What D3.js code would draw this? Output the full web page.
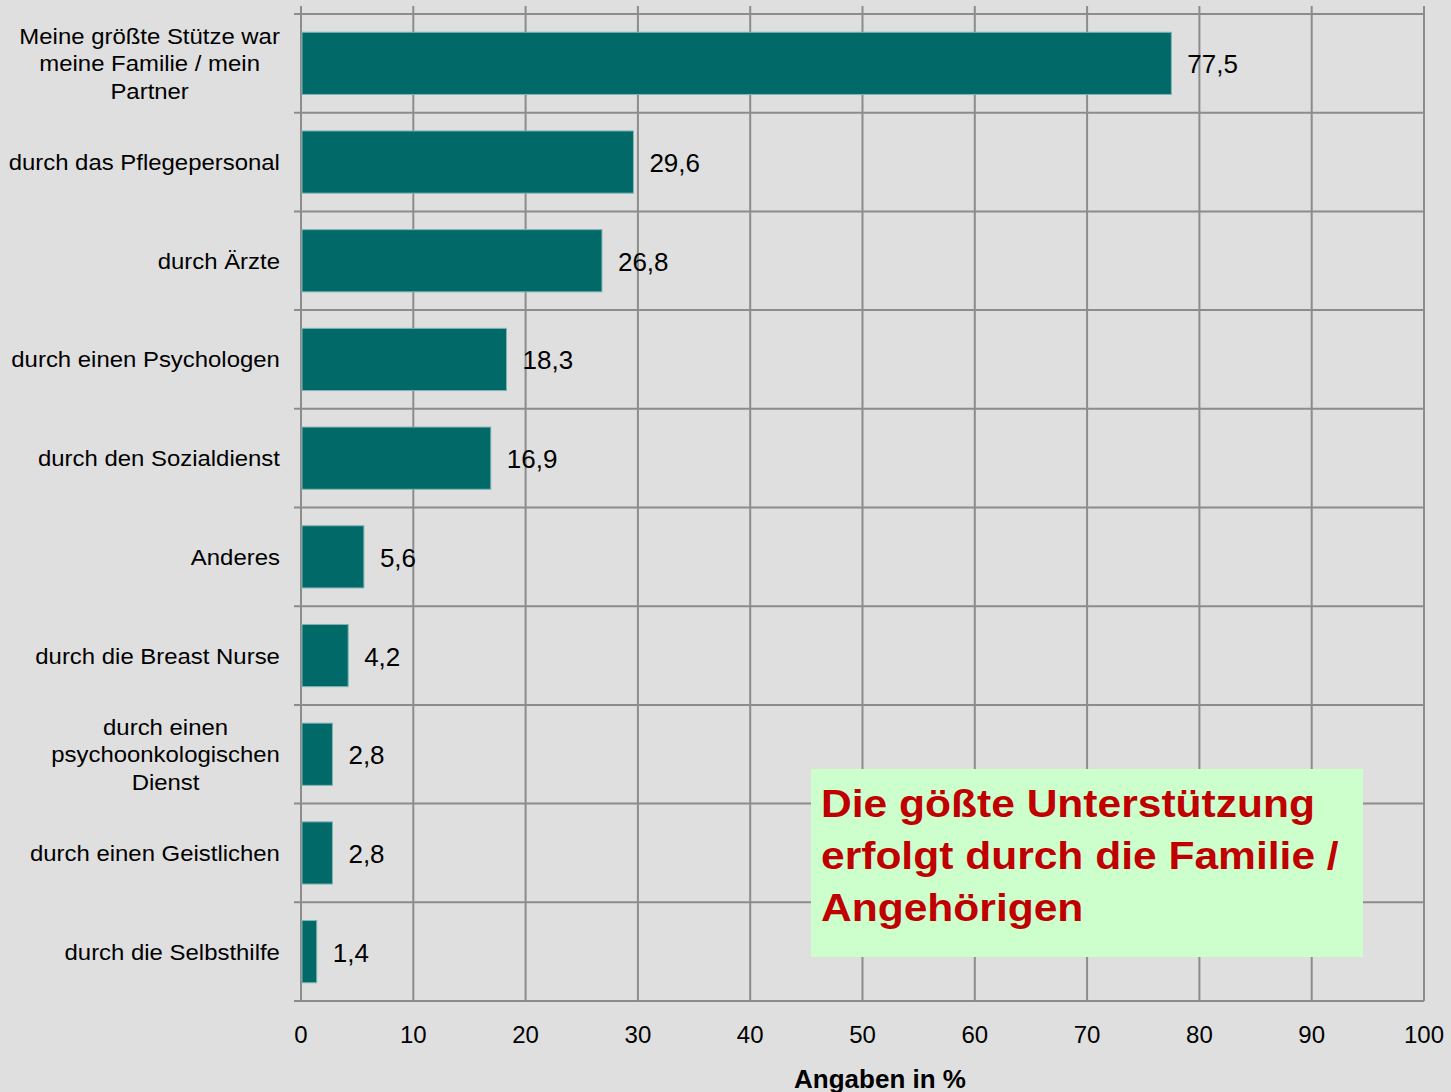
<!DOCTYPE html>
<html>
<head>
  <meta charset="utf-8">
  <title>Unterstützung</title>
  <script src="https://d3js.org/d3.v7.min.js"></script>
  <style>
    body, html {
      margin: 0;
      padding: 0;
      background-color: #dfdfdf;
    }

    body {
      font-family: "Liberation Sans", Arial, Helvetica, sans-serif;
    }

    .grid line {
      stroke: #8c8c8c;
      stroke-width: 2;
    }

    .bar {
      fill: #026969;
      stroke: #7fb3b3;
      stroke-width: 1;
    }

    .label {
      font-size: 22px;
      fill: #000;
    }

    .value {
      font-size: 26px;
      fill: #000;
    }

    .tick-label {
      font-size: 24px;
      fill: #000;
    }

    .note {
      font-size: 38px;
      font-weight: bold;
      fill: #c00000;
    }
  </style>
</head>
<body>
  <div id="chart"></div>

  <script>
    const categories = [
      ["Meine größte Stütze war", "meine Familie / mein", "Partner"],
      ["durch das Pflegepersonal"],
      ["durch Ärzte"],
      ["durch einen Psychologen"],
      ["durch den Sozialdienst"],
      ["Anderes"],
      ["durch die Breast Nurse"],
      ["durch einen", "psychoonkologischen", "Dienst"],
      ["durch einen Geistlichen"],
      ["durch die Selbsthilfe"]
    ]
    const values = [77.5, 29.6, 26.8, 18.3, 16.9, 5.6, 4.2, 2.8, 2.8, 1.4]
    const xTicks = [0, 10, 20, 30, 40, 50, 60, 70, 80, 90, 100]
    const noteLines = ["Die gößte Unterstützung", "erfolgt durch die Familie /", "Angehörigen"]

    const W = 1451, H = 1092
    const margin = { left: 301, right: 27, top: 14, bottom: 91 }
    const width = W - margin.left - margin.right
    const height = H - margin.top - margin.bottom

    const svg = d3.select('#chart').append('svg')
      .attr('width', W)
      .attr('height', H)

    const chart = svg.append('g')
      .attr('transform', `translate(${margin.left},${margin.top})`)

    const xScale = d3.scaleLinear()
      .domain([0, 100])
      .range([0, width])

    const yScale = d3.scaleBand()
      .domain(d3.range(categories.length))
      .range([0, height])
      .paddingInner(0.37)
      .paddingOuter(0.185)

    // grid
    const grid = chart.append('g').attr('class', 'grid')
    const step = yScale.step()
    const edges = d3.range(categories.length + 1).map((i) => i * step)

    grid.selectAll('.hline')
      .data(edges)
      .enter()
      .append('line')
      .attr('x1', -7)
      .attr('x2', width)
      .attr('y1', (d) => d)
      .attr('y2', (d) => d)

    grid.selectAll('.vline')
      .data(xTicks)
      .enter()
      .append('line')
      .attr('x1', (d) => xScale(d))
      .attr('x2', (d) => xScale(d))
      .attr('y1', -8)
      .attr('y2', height)

    // bars
    chart.selectAll('.bar')
      .data(values)
      .enter()
      .append('rect')
      .attr('class', 'bar')
      .attr('x', xScale(0) + 1)
      .attr('y', (d, i) => yScale(i))
      .attr('width', (d) => xScale(d) - xScale(0) - 1)
      .attr('height', yScale.bandwidth())

    // value labels
    chart.selectAll('.value')
      .data(values)
      .enter()
      .append('text')
      .attr('class', 'value')
      .attr('x', (d) => xScale(d) + 16)
      .attr('y', (d, i) => yScale(i) + yScale.bandwidth() / 2 + 10)
      .text((d) => String(d).replace('.', ','))

    // category labels (centered block, right aligned to axis, a bit stretched)
    const sx = 1.088
    const catG = chart.selectAll('.cat')
      .data(categories)
      .enter()
      .append('text')
      .attr('class', 'label')
      .attr('text-anchor', 'middle')

    catG.each(function(lines, i) {
      const t = d3.select(this)
      const cy = yScale(i) + yScale.bandwidth() / 2
      const lh = 27.5
      const y0 = cy - (lines.length - 1) * lh / 2 + 8
      lines.forEach((l, j) => {
        t.append('tspan').attr('x', 0).attr('y', y0 + j * lh).text(l)
      })
      const wmax = d3.max(t.selectAll('tspan').nodes(), (n) => n.getComputedTextLength())
      t.attr('transform', `translate(${-21 - wmax * sx / 2},0) scale(${sx},1)`)
    })

    // x ticks
    chart.selectAll('.tick-label')
      .data(xTicks)
      .enter()
      .append('text')
      .attr('class', 'tick-label')
      .attr('text-anchor', 'middle')
      .attr('x', (d) => xScale(d))
      .attr('y', height + 42)
      .text((d) => d)

    // axis title
    chart.append('text')
      .attr('class', 'value')
      .attr('font-weight', 'bold')
      .attr('text-anchor', 'middle')
      .attr('x', 880 - margin.left)
      .attr('y', height + 87)
      .text('Angaben in %')

    // note box
    const note = svg.append('g')
    note.append('rect')
      .attr('x', 811)
      .attr('y', 769)
      .attr('width', 552)
      .attr('height', 188)
      .attr('fill', '#ccffcc')
    note.selectAll('text')
      .data(noteLines)
      .enter()
      .append('text')
      .attr('class', 'note')
      .attr('transform', (d, i) => `translate(821,${817 + i * 52}) scale(1.12,1)`)
      .text((d) => d)
  </script>
</body>
</html>
